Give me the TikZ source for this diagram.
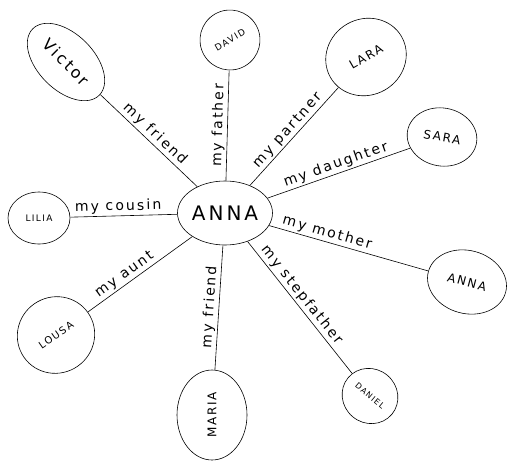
\documentclass[tikz,border=0pt]{standalone}
\usepackage{fontspec}
\newfontfamily\hand[LetterSpace=15]{DejaVu Sans}
\usetikzlibrary{positioning,shapes.geometric}

\begin{document}
\begin{tikzpicture}
[x=1pt,y=1pt,on grid,semithick,
  person/.style={draw,ellipse,inner sep=0pt,font=\hand},
  rel/.style={above,sloped,inner sep=2pt,font=\hand\fontsize{14}{16}\selectfont}]
\useasboundingbox (0,0) rectangle (508,-463);
\node[person,minimum width=95pt,minimum height=64pt,
  font=\hand\fontsize{20}{22}\selectfont](anna) at (225,-213){ANNA};
\node[person,rotate=-45,minimum width=94pt,minimum height=56pt,
  font=\hand\fontsize{16}{18}\selectfont,above left=151pt and 159pt of anna](victor){Victor};
\node[person,rotate=30,minimum width=60pt,minimum height=60pt,
  font=\hand\fontsize{9}{11}\selectfont,above right=173pt and 5pt of anna](david){DAVID};
\node[person,rotate=30,minimum width=82pt,minimum height=76pt,
  font=\hand\fontsize{12}{14}\selectfont,above right=156pt and 141pt of anna](lara){LARA};
\node[person,rotate=-10,minimum width=70pt,minimum height=58pt,
  font=\hand\fontsize{12}{14}\selectfont,above right=76pt and 217pt of anna](sara){SARA};
\node[person,minimum width=62pt,minimum height=52pt,
  font=\hand\fontsize{9}{11}\selectfont,below left=5pt and 186pt of anna](lilia){LILIA};
\node[person,rotate=35,minimum width=78pt,minimum height=76pt,
  font=\hand\fontsize{10}{12}\selectfont,below left=122pt and 169pt of anna](lousa){LOUSA};
\node[person,rotate=90,minimum width=90pt,minimum height=70pt,
  font=\hand\fontsize{12}{14}\selectfont,below left=202pt and 13pt of anna](maria){MARIA};
\node[person,rotate=-15,minimum width=80pt,minimum height=63pt,
  font=\hand\fontsize{12}{14}\selectfont,below right=69pt and 242pt of anna](anna2){ANNA};
\node[person,rotate=-40,minimum width=57pt,minimum height=54pt,
  font=\hand\fontsize{8}{10}\selectfont,below right=183pt and 145pt of anna](daniel){DANIEL};
\path (victor) edge node[rel]{my friend} (anna);
\path (anna) edge node[rel]{my father} (david);
\path (anna) edge node[rel]{my partner} (lara);
\path (anna) edge node[rel]{my daughter} (sara);
\path (lilia) edge node[rel,pos=.45]{my cousin} (anna);
\path (lousa) edge node[rel,pos=.4]{my aunt} (anna);
\path (maria) edge node[rel]{my friend} (anna);
\path (anna) edge node[rel,pos=.35]{my mother} (anna2);
\path (anna) edge node[rel,pos=.45]{my stepfather} (daniel);
\end{tikzpicture}
\end{document}
